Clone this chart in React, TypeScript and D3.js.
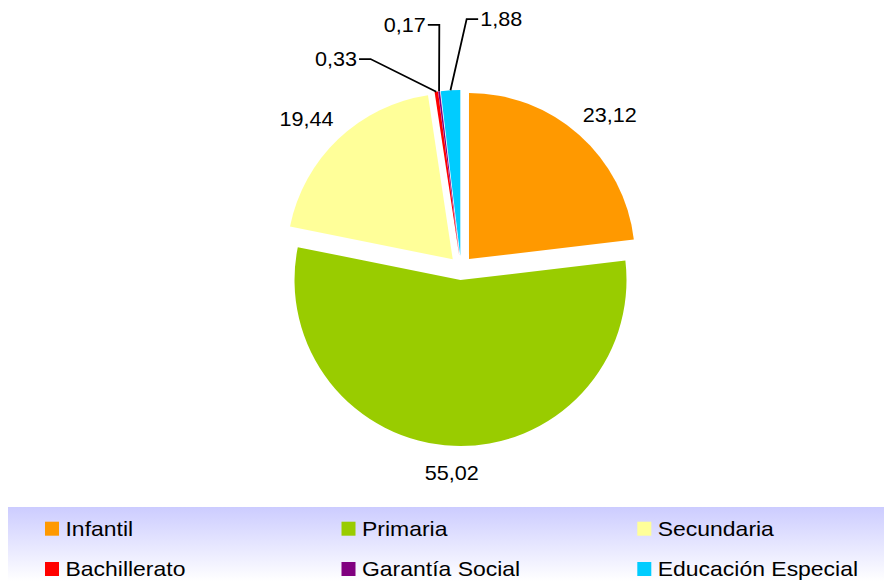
import React from "react";
import * as d3 from "d3";

const categories = ["Infantil", "Primaria", "Secundaria", "Bachillerato", "Garantía Social", "Educación Especial"];
const values = [23.12, 55.02, 19.44, 0.33, 0.17, 1.88];
const colors = ["#FF9900", "#99CC00", "#FFFF99", "#FF0000", "#800080", "#00CCFF"];

// manual label placement for the thin slices (polar: angle in degrees from 12 o'clock, radius), side of text
const smallLabelLayout: Record<string, { ang: number; rad: number; side: number }> = {
  "Bachillerato": { ang: -23.4, rad: 227.7, side: -1 },
  "Garantía Social": { ang: -5.1, rad: 244, side: -1 },
  "Educación Especial": { ang: 1.3, rad: 249, side: 1 },
};

const W = 884;
const H = 581;
const CX = 461;
const CY = 268;
const R = 166;
const EXPLODE = 12;
const LABEL_GAP = 20;
const FONT = "'Liberation Sans', Arial, sans-serif";

const fmt = (v: number) => v.toFixed(2).replace(".", ",");

export default function App() {
  const pie = d3.pie<number>().sort(null).value((d) => d);
  const arcs = pie(values);
  const arc = d3.arc<d3.PieArcDatum<number>>().innerRadius(0).outerRadius(R);

  const legendTop = 507;
  const legendCols = [45, 341.5, 637.3];
  const legendRows = [535.7, 576];

  return (
    <svg width={W} height={H} style={{ position: "absolute", left: 0, top: 0 }} fontFamily={FONT}>
      <defs>
        <linearGradient id="legbg" x1="0" y1="0" x2="0" y2="1">
          <stop offset="0%" stopColor="#CCCCFF" />
          <stop offset="100%" stopColor="#FFFFFF" />
        </linearGradient>
      </defs>
      <rect x={0} y={0} width={W} height={H} fill="#fff" />
      {arcs.map((a, i) => {
        const mid = (a.startAngle + a.endAngle) / 2;
        const dx = Math.sin(mid) * EXPLODE;
        const dy = -Math.cos(mid) * EXPLODE;
        return (
          <path key={i} d={arc(a) || ""} fill={colors[i]} transform={`translate(${CX + dx},${CY + dy})`} />
        );
      })}
      {arcs.map((a, i) => {
        const mid = (a.startAngle + a.endAngle) / 2;
        const ux = Math.sin(mid);
        const uy = -Math.cos(mid);
        const txt = fmt(values[i]);
        const layout = smallLabelLayout[categories[i]];
        if (!layout) {
          const rr = R + EXPLODE + LABEL_GAP;
          const px = CX + ux * rr;
          const py = CY + uy * rr;
          const cx = px + ux * 26;
          const cy = py + uy * 7;
          return (
            <text key={"l" + i} transform={`translate(${cx},${cy + 7}) scale(1.08,1)`} textAnchor="middle" fontSize={20} fill="#000">
              {txt}
            </text>
          );
        }
        const sx = CX + ux * (R + EXPLODE);
        const sy = CY + uy * (R + EXPLODE);
        const ang = (layout.ang * Math.PI) / 180;
        const ex = CX + Math.sin(ang) * layout.rad;
        const ey = CY - Math.cos(ang) * layout.rad;
        const hx = ex + layout.side * 11.5;
        const tx = hx + layout.side * 2;
        return (
          <g key={"l" + i}>
            <polyline points={`${sx},${sy} ${ex},${ey} ${hx},${ey}`} fill="none" stroke="#000" strokeWidth={1.8} />
            <text transform={`translate(${tx},${ey + 7}) scale(1.08,1)`} textAnchor={layout.side < 0 ? "end" : "start"} fontSize={20} fill="#000">
              {txt}
            </text>
          </g>
        );
      })}
      <rect x={8} y={legendTop} width={W - 8} height={H - legendTop} fill="url(#legbg)" />
      {categories.map((c, i) => {
        const col = i % 3;
        const row = Math.floor(i / 3);
        const x = legendCols[col];
        const y = legendRows[row];
        return (
          <g key={"lg" + i}>
            <rect x={x} y={y - 14} width={14} height={14} fill={colors[i]} />
            <text transform={`translate(${x + 20.5},${y}) scale(1.12,1)`} fontSize={20.5} fill="#000">
              {c}
            </text>
          </g>
        );
      })}
    </svg>
  );
}
